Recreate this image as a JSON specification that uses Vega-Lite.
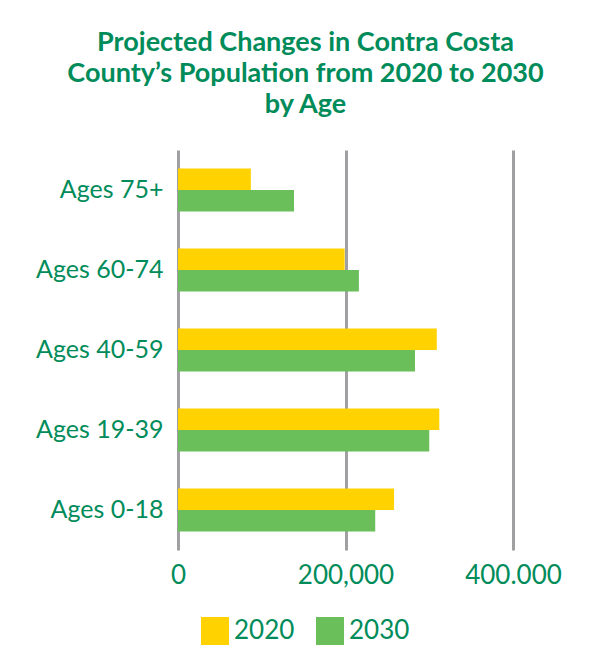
{
  "$schema": "https://vega.github.io/schema/vega-lite/v6.json",
  "autosize": {"type": "none"},
  "padding": {"left": 178, "top": 150, "right": 90, "bottom": 109},
  "width": 335,
  "height": 400,
  "background": "white",
  "title": {
    "text": ["Projected Changes in Contra Costa", "County’s Population from 2020 to 2030", "by Age"],
    "font": "Lato",
    "fontSize": 27,
    "fontWeight": "bold",
    "color": "#008C5A",
    "lineHeight": 31,
    "anchor": "middle",
    "dx": -40,
    "offset": 31
  },
  "data": {
    "values": [
      {"age": "Ages 75+", "year": "2020", "population": 87000},
      {"age": "Ages 75+", "year": "2030", "population": 138500},
      {"age": "Ages 60-74", "year": "2020", "population": 199000},
      {"age": "Ages 60-74", "year": "2030", "population": 216000},
      {"age": "Ages 40-59", "year": "2020", "population": 309000},
      {"age": "Ages 40-59", "year": "2030", "population": 283000},
      {"age": "Ages 19-39", "year": "2020", "population": 312000},
      {"age": "Ages 19-39", "year": "2030", "population": 300000},
      {"age": "Ages 0-18", "year": "2020", "population": 258000},
      {"age": "Ages 0-18", "year": "2030", "population": 235500}
    ]
  },
  "mark": {"type": "bar"},
  "encoding": {
    "y": {
      "field": "age",
      "type": "nominal",
      "sort": ["Ages 75+", "Ages 60-74", "Ages 40-59", "Ages 19-39", "Ages 0-18"],
      "scale": {"paddingInner": 0.46, "paddingOuter": 0.23},
      "axis": {
        "title": null,
        "domain": false,
        "ticks": false,
        "grid": false,
        "labelFont": "Lato",
        "labelFontSize": 25,
        "labelColor": "#008C5A",
        "labelPadding": 15
      }
    },
    "yOffset": {"field": "year", "type": "nominal", "sort": ["2020", "2030"]},
    "x": {
      "field": "population",
      "type": "quantitative",
      "scale": {"domain": [0, 400000], "nice": false},
      "axis": {
        "title": null,
        "domain": false,
        "ticks": false,
        "values": [0, 200000, 400000],
        "labelExpr": "datum.value == 400000 ? '400.000' : format(datum.value, ',')",
        "labelFlush": false,
        "labelAlign": "center",
        "labelFont": "Lato",
        "labelFontSize": 26,
        "labelColor": "#008C5A",
        "labelPadding": 12,
        "grid": true,
        "gridColor": "#A0A0A3",
        "gridWidth": 3
      }
    },
    "color": {
      "field": "year",
      "type": "nominal",
      "scale": {"domain": ["2020", "2030"], "range": ["#FFD200", "#6ABF5B"]},
      "legend": {
        "title": null,
        "orient": "none",
        "legendX": 23,
        "legendY": 467,
        "direction": "horizontal",
        "symbolType": "square",
        "symbolSize": 784,
        "symbolStrokeWidth": 0,
        "symbolOpacity": 1,
        "labelFont": "Lato",
        "labelFontSize": 26,
        "labelColor": "#008C5A",
        "labelOffset": 5,
        "columnPadding": 21
      }
    }
  },
  "config": {"view": {"stroke": null}}
}
